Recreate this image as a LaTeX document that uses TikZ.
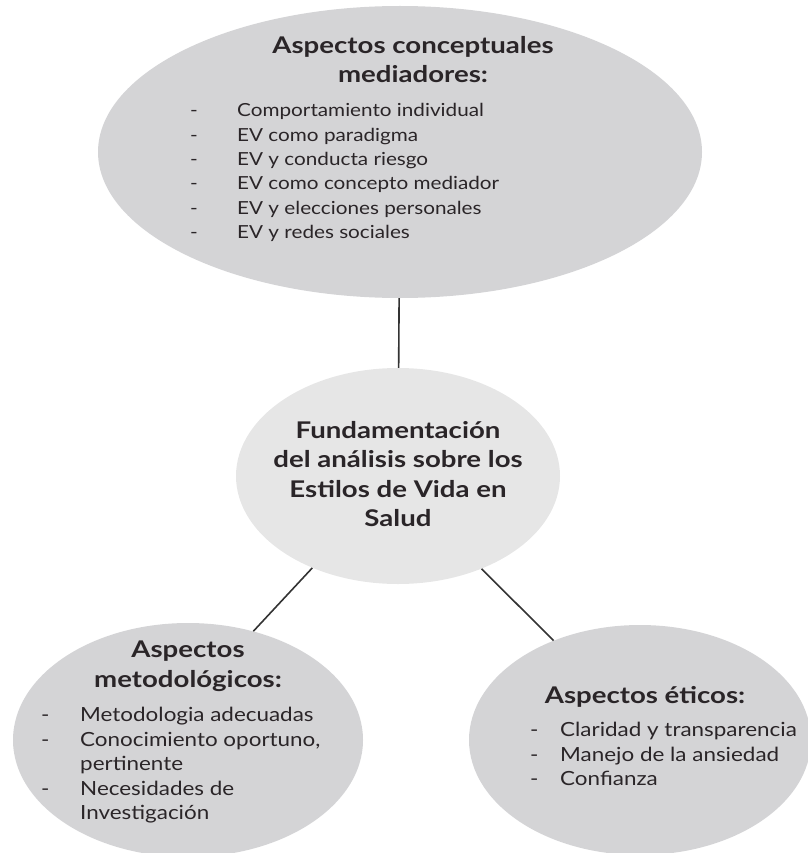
\documentclass[tikz,border=0pt]{standalone}
\usepackage{fontspec}
\setmainfont{Lato}[FakeStretch=1.15]
\newfontfamily\headfamily{Lato}[FakeStretch=1.2]
\usetikzlibrary{shapes.geometric}
\definecolor{bubblegray}{HTML}{D4D4D6}
\definecolor{hubgray}{HTML}{E6E6E6}
\definecolor{inkdark}{HTML}{2A2528}
\definecolor{linegray}{HTML}{333333}
\newcommand\headfont{\headfamily\fontsize{23}{29.5}\selectfont\bfseries}
\newcommand\itemfont{\fontsize{18}{24.3}\selectfont}
\newcommand\largeitemfont{\fontsize{19.5}{24.5}\selectfont}
\newcommand\dashitem[2]{\makebox[#1][l]{-}#2}
\newcommand\contitem[2]{\makebox[#1][l]{}#2}
\tikzset{
    bubble/.style = {
                        ellipse, fill=bubblegray, draw=none, inner sep=0pt
                    },
    hub/.style = {bubble, fill=hubgray},
    heading/.style = {font=\headfont, align=center, text=inkdark, inner sep=0pt, anchor=north},
    items/.style = {font=\itemfont, align=left, text=inkdark, inner sep=0pt, anchor=north west},
    largeitems/.style = {items, font=\largeitemfont},
    link/.style = {draw=linegray, line width=1.6pt}
}
\begin{document}
\begin{tikzpicture}[x=1pt, y=-1pt]
    \useasboundingbox (0,0) rectangle (807,853);

    \node (conceptual) [bubble, minimum width=604pt, minimum height=292pt] at (400,152) {};
    \node (fundament)  [hub, minimum width=324pt, minimum height=216pt] at (398,476) {};
    \node (metodolog)  [bubble, minimum width=350pt, minimum height=234pt] at (188,740) {};
    \node (eticos)     [bubble, minimum width=342pt, minimum height=230pt] at (640,740) {};

    \draw[link] (conceptual) -- (fundament);
    \draw[link] (fundament.227) -- (metodolog.59);
    \draw[link] (fundament.312) -- (eticos.131);

    \node (conceptual_title) [heading] at (413,36) {Aspectos conceptuales\\ mediadores:};
    \node (conceptual_list)  [items] at (190,103.5) {%
        \dashitem{47pt}{Comportamiento individual}\\
        \dashitem{47pt}{EV como paradigma}\\
        \dashitem{47pt}{EV y conducta riesgo}\\
        \dashitem{47pt}{EV como concepto mediador}\\
        \dashitem{47pt}{EV y elecciones personales}\\
        \dashitem{47pt}{EV y redes sociales}};

    \node (fundament_title) [heading] at (398,421) {Fundamentación\\ del análisis sobre los\\ Estilos de Vida en\\ Salud};

    \node (metodolog_title) [heading] at (188,641) {Aspectos\\ metodológicos:};
    \node (metodolog_list)  [largeitems] at (41,707) {%
        \dashitem{39pt}{Metodologia adecuadas}\\
        \dashitem{39pt}{Conocimiento oportuno,}\\
        \contitem{39pt}{pertinente}\\
        \dashitem{39pt}{Necesidades de}\\
        \contitem{39pt}{Investigación}};

    \node (eticos_title) [heading] at (645,686.5) {Aspectos éticos:};
    \node (eticos_list)  [largeitems] at (530,722) {%
        \dashitem{30pt}{Claridad y transparencia}\\
        \dashitem{30pt}{Manejo de la ansiedad}\\
        \dashitem{30pt}{Confianza}};
\end{tikzpicture}
\end{document}
